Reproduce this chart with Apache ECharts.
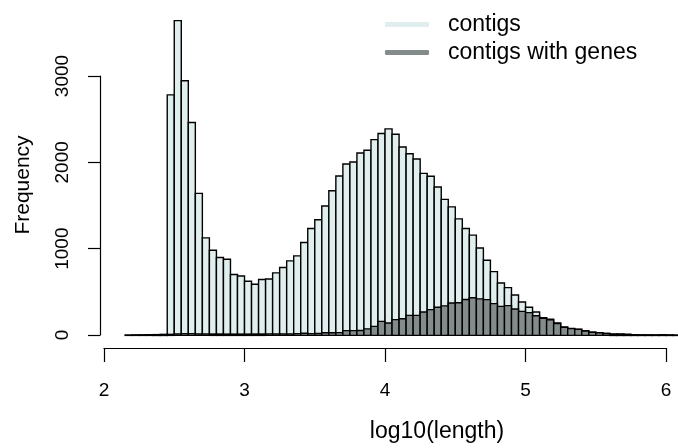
<!DOCTYPE html>
<html>
<head>
<meta charset="utf-8">
<script src="https://cdn.jsdelivr.net/npm/echarts@6/dist/echarts.min.js"></script>
<style>html,body{margin:0;padding:0;background:#fff}#c{width:678px;height:448px}</style>
</head>
<body>
<div id="c"></div>
<script>
// Lower bin edges (log10 length), bin width 0.05
var binStarts = [2.15,2.20,2.25,2.30,2.35,2.40,2.45,2.50,2.55,2.60,2.65,2.70,2.75,2.80,2.85,2.90,2.95,3.00,3.05,3.10,3.15,3.20,3.25,3.30,3.35,3.40,3.45,3.50,3.55,3.60,3.65,3.70,3.75,3.80,3.85,3.90,3.95,4.00,4.05,4.10,4.15,4.20,4.25,4.30,4.35,4.40,4.45,4.50,4.55,4.60,4.65,4.70,4.75,4.80,4.85,4.90,4.95,5.00,5.05,5.10,5.15,5.20,5.25,5.30,5.35,5.40,5.45,5.50,5.55,5.60,5.65,5.70,5.75,5.80,5.85,5.90,5.95,6.00,6.05];
var binWidth = 0.05;
var contigs = [4,6,7,8,9,12,2784,3643,2947,2463,1644,1129,986,901,882,704,688,626,592,646,653,723,785,862,920,1075,1237,1338,1497,1674,1845,1984,2007,2111,2142,2266,2336,2390,2328,2181,2103,2042,1875,1841,1717,1574,1487,1348,1237,1160,1011,870,738,607,553,468,387,325,270,205,186,143,97,81,73,54,38,32,23,15,15,12,8,5,5,4,7,4,2];
var contigsWithGenes = [0,0,0,0,1,1,12,18,20,20,18,17,16,16,15,15,15,15,16,16,17,17,18,18,20,25,20,22,30,30,32,55,55,57,75,104,162,143,182,193,232,232,270,298,325,342,375,377,416,435,423,414,367,336,344,305,278,263,228,198,180,138,93,78,70,50,36,30,21,14,14,11,7,5,5,4,6,4,2];
var xTicks = [2,3,4,5,6];
var yTicks = [0,1000,2000,3000];
var seriesNames = ['contigs','contigs with genes'];
var colors = ['#E0EEEE','#838B8B'];

var FONT = 'Liberation Sans, Arial, Helvetica, sans-serif';

function toData(counts){
  return binStarts.map(function(b,i){ return [b, +(b+binWidth).toFixed(2), counts[i]]; });
}
function makeRender(fill){
  return function(params, api){
    var p0 = api.coord([api.value(0), 0]);
    var p1 = api.coord([api.value(1), api.value(2)]);
    return {
      type:'rect',
      shape:{x:p0[0], y:p1[1], width:p1[0]-p0[0], height:p0[1]-p1[1]},
      style:{fill:fill, stroke:'#000', lineWidth:1.4}
    };
  };
}

var chart = echarts.init(document.getElementById('c'), null, {renderer:'canvas'});
chart.setOption({
  animation:false,
  backgroundColor:'#fff',
  grid:[
    {left:100, right:0, top:8, bottom:100},
    {left:104, right:12, top:8, bottom:100},
    {left:100, right:0, top:76, bottom:113}
  ],
  xAxis:[
    {type:'value', gridIndex:0, min:1.9715, max:6.085, show:false},
    {type:'value', gridIndex:1, min:xTicks[0], max:xTicks[xTicks.length-1], interval:1, position:'bottom',
     axisLine:{show:true, onZero:false, lineStyle:{color:'#000', width:1.2}},
     axisTick:{show:true, length:14, lineStyle:{color:'#000', width:1.2}},
     axisLabel:{show:true, margin:33, fontSize:19, color:'#000', fontFamily:FONT},
     splitLine:{show:false}},
    {type:'value', gridIndex:2, min:0, max:1, show:false}
  ],
  yAxis:[
    {type:'value', gridIndex:0, min:-146, max:3789, show:false},
    {type:'value', gridIndex:1, min:0, max:1, show:false},
    {type:'value', gridIndex:2, min:yTicks[0], max:yTicks[yTicks.length-1], interval:1000, position:'left',
     axisLine:{show:true, onZero:false, lineStyle:{color:'#000', width:1.2}},
     axisTick:{show:true, length:12, lineStyle:{color:'#000', width:1.2}},
     axisLabel:{show:true, rotate:90, margin:28, fontSize:19, color:'#000', fontFamily:FONT,
                formatter:function(v){ return String(v); }},
     splitLine:{show:false}}
  ],
  legend:{
    orient:'vertical', left:385, top:13, padding:0, itemWidth:44, itemHeight:5, itemGap:5,
    icon:'roundRect',
    data:seriesNames,
    textStyle:{fontSize:23, lineHeight:20, color:'#000', fontFamily:FONT, padding:[0,0,0,14]}
  },
  graphic:[
    {type:'text', x:23, y:185, rotation:Math.PI/2,
     style:{text:'Frequency', fontSize:21, fontFamily:FONT, fill:'#000', align:'center', verticalAlign:'middle'}},
    {type:'text', x:437, y:432,
     style:{text:'log10(length)', fontSize:23, fontFamily:FONT, fill:'#000', align:'center', verticalAlign:'middle'}}
  ],
  series:[
    {name:seriesNames[0], type:'custom', xAxisIndex:0, yAxisIndex:0, renderItem:makeRender(colors[0]),
     itemStyle:{color:colors[0]}, data:toData(contigs), encode:{x:[0,1], y:2}},
    {name:seriesNames[1], type:'custom', xAxisIndex:0, yAxisIndex:0, renderItem:makeRender(colors[1]),
     itemStyle:{color:colors[1]}, data:toData(contigsWithGenes), encode:{x:[0,1], y:2}}
  ]
});
</script>
</body>
</html>
